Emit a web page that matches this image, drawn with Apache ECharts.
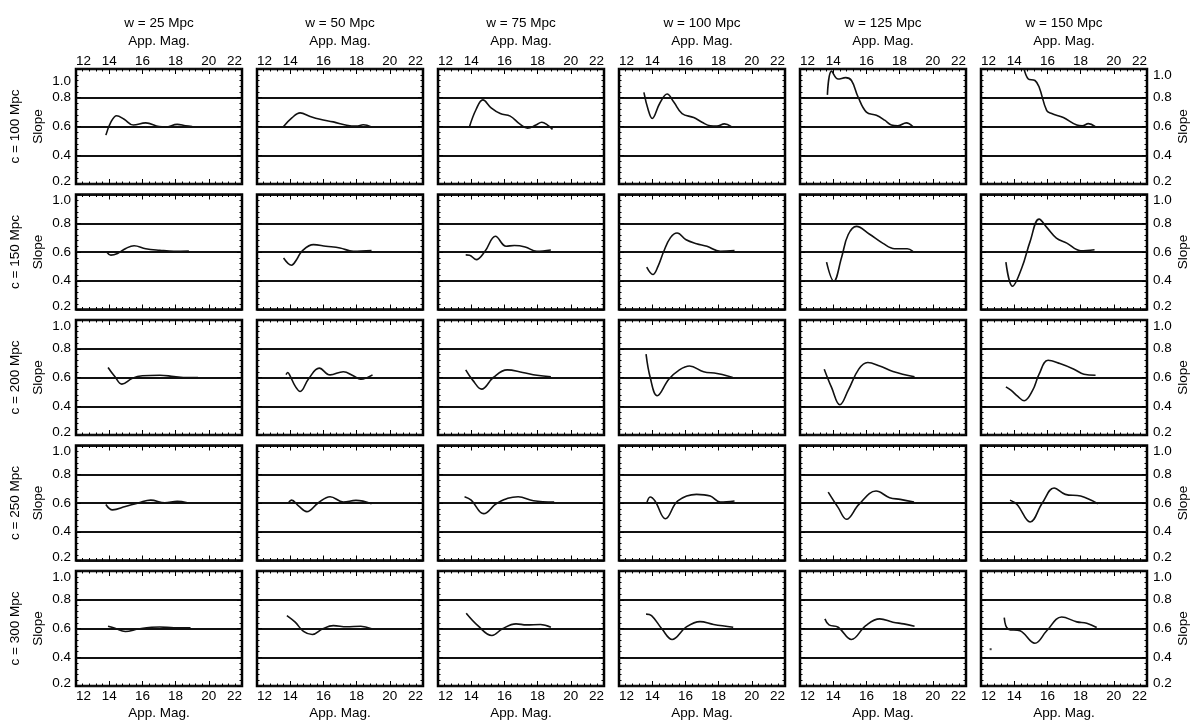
<!DOCTYPE html>
<html>
<head>
<meta charset="utf-8">
<script src="https://cdn.jsdelivr.net/npm/echarts@6/dist/echarts.min.js"></script>
<style>
  html, body { margin: 0; padding: 0; background: #fff; }
  #chart { width: 1190px; height: 721px; }
</style>
</head>
<body>
<div id="chart"></div>
<script>
// column / row headers
var widths = [25, 50, 75, 100, 125, 150];
var depths = [100, 150, 200, 250, 300];

// c = 100 Mpc
var s100_25 = [[13.8,0.54],[14.1,0.63],[14.45,0.675],[14.9,0.65],[15.45,0.61],[16.2,0.625],[17.0,0.6],[17.4,0.597],[18.1,0.615],[18.6,0.605],[19.0,0.6]];
var s100_50 = [[13.6,0.6],[14.1,0.66],[14.6,0.695],[15.2,0.67],[15.8,0.65],[16.6,0.632],[17.4,0.609],[18.0,0.603],[18.4,0.612],[18.9,0.597]];
var s100_75 = [[13.9,0.6],[14.3,0.72],[14.7,0.785],[15.2,0.73],[15.75,0.69],[16.35,0.672],[16.9,0.62],[17.4,0.588],[17.9,0.61],[18.25,0.63],[18.6,0.61],[18.9,0.58]];
var s100_100 = [[13.5,0.838],[13.75,0.72],[14.0,0.656],[14.45,0.76],[14.9,0.826],[15.3,0.77],[15.8,0.69],[16.5,0.662],[17.0,0.63],[17.5,0.605],[17.9,0.603],[18.35,0.618],[18.75,0.6]];
var s100_125 = [[13.65,0.82],[13.9,0.985],[14.3,0.93],[14.75,0.94],[15.1,0.92],[15.5,0.805],[16.0,0.70],[16.6,0.678],[17.1,0.644],[17.5,0.61],[17.9,0.605],[18.4,0.625],[18.8,0.6]];
var s100_150 = [[14.5,1.06],[14.85,0.93],[15.25,0.92],[15.5,0.875],[15.96,0.71],[16.26,0.69],[16.96,0.662],[17.77,0.61],[18.1,0.605],[18.47,0.62],[18.87,0.6]];

// c = 150 Mpc
var s150_25 = [[13.85,0.6],[14.1,0.578],[14.5,0.59],[15.0,0.625],[15.5,0.644],[16.2,0.623],[17.05,0.612],[17.9,0.605],[18.8,0.607]];
var s150_50 = [[13.6,0.558],[14.08,0.508],[14.4,0.55],[14.7,0.605],[15.4,0.651],[16.15,0.64],[17.0,0.628],[17.8,0.605],[18.9,0.61]];
var s150_75 = [[13.67,0.58],[13.9,0.578],[14.3,0.547],[14.83,0.605],[15.46,0.71],[16.1,0.64],[16.6,0.645],[17.25,0.635],[17.95,0.605],[18.8,0.614]];
var s150_100 = [[13.67,0.494],[14.04,0.443],[14.35,0.5],[14.7,0.605],[15.1,0.7],[15.5,0.732],[16.04,0.685],[16.67,0.658],[17.3,0.64],[18.1,0.605],[18.96,0.61]];
var s150_125 = [[13.6,0.53],[14.04,0.397],[14.5,0.56],[14.9,0.72],[15.4,0.778],[16.17,0.725],[17.0,0.66],[17.7,0.623],[18.46,0.623],[18.8,0.605]];
var s150_150 = [[13.5,0.53],[13.9,0.362],[14.46,0.49],[14.96,0.674],[15.5,0.829],[16.0,0.766],[16.54,0.697],[17.17,0.662],[18.0,0.609],[18.84,0.616]];

// c = 200 Mpc
var s200_25 = [[13.93,0.67],[14.35,0.605],[14.76,0.554],[15.4,0.595],[16.0,0.612],[17.05,0.616],[17.9,0.607],[18.7,0.6],[19.35,0.6]];
var s200_50 = [[13.75,0.62],[13.85,0.635],[14.0,0.61],[14.3,0.54],[14.6,0.503],[15.1,0.59],[15.75,0.665],[16.4,0.618],[17.2,0.64],[17.8,0.612],[18.25,0.588],[18.96,0.618]];
var s200_75 = [[13.67,0.653],[14.1,0.58],[14.63,0.519],[15.33,0.6],[16.17,0.653],[17.1,0.635],[17.96,0.616],[18.8,0.605]];
var s200_100 = [[13.63,0.762],[13.88,0.6],[14.3,0.473],[15.0,0.588],[15.6,0.65],[16.25,0.68],[17.1,0.64],[17.9,0.628],[18.85,0.6]];
var s200_125 = [[13.46,0.658],[13.9,0.531],[14.4,0.41],[14.9,0.51],[15.54,0.658],[16.08,0.704],[16.8,0.68],[17.6,0.642],[18.9,0.605]];
var s200_150 = [[13.5,0.535],[13.8,0.512],[14.2,0.47],[14.6,0.438],[15.1,0.508],[15.5,0.623],[16.04,0.72],[16.75,0.697],[17.6,0.658],[18.2,0.623],[18.9,0.616]];

// c = 250 Mpc
var s250_25 = [[13.8,0.59],[14.2,0.552],[14.97,0.575],[15.8,0.602],[16.5,0.62],[17.35,0.602],[18.1,0.612],[18.7,0.602]];
var s250_50 = [[13.9,0.602],[14.08,0.62],[14.5,0.58],[15.0,0.54],[15.7,0.602],[16.4,0.644],[17.2,0.607],[17.96,0.618],[18.9,0.595]];
var s250_75 = [[13.6,0.644],[14.0,0.62],[14.75,0.526],[15.6,0.602],[16.83,0.644],[17.75,0.616],[19.0,0.607]];
var s250_100 = [[13.67,0.598],[13.88,0.642],[14.17,0.614],[14.8,0.49],[15.54,0.614],[16.67,0.66],[17.5,0.648],[18.1,0.607],[18.96,0.614]];
var s250_125 = [[13.7,0.676],[14.3,0.568],[14.8,0.487],[15.55,0.59],[16.58,0.683],[17.4,0.637],[18.04,0.625],[18.87,0.607]];
var s250_150 = [[13.75,0.62],[14.17,0.59],[14.96,0.468],[15.7,0.602],[16.4,0.704],[17.08,0.66],[18.0,0.648],[19.04,0.595]];

// c = 300 Mpc
var s300_25 = [[13.93,0.616],[14.35,0.602],[14.97,0.579],[15.8,0.598],[17.05,0.61],[17.9,0.605],[18.9,0.605]];
var s300_50 = [[13.8,0.69],[14.3,0.644],[14.8,0.58],[15.33,0.558],[15.96,0.598],[16.6,0.62],[17.4,0.612],[18.25,0.616],[18.9,0.598]];
var s300_75 = [[13.7,0.706],[14.4,0.62],[15.25,0.551],[15.88,0.598],[16.7,0.632],[17.33,0.625],[18.17,0.628],[18.8,0.609]];
var s300_100 = [[13.63,0.7],[13.96,0.69],[14.58,0.598],[15.2,0.524],[16.04,0.61],[16.88,0.648],[17.7,0.628],[18.88,0.609]];
var s300_125 = [[13.5,0.667],[13.75,0.625],[14.3,0.609],[15.1,0.524],[15.96,0.62],[16.8,0.667],[17.6,0.644],[18.25,0.632],[18.9,0.616]];
var s300_150 = [[13.4,0.676],[13.65,0.595],[14.35,0.584],[15.25,0.497],[15.96,0.584],[16.86,0.68],[17.77,0.646],[18.37,0.637],[18.97,0.607]];
var stray300_150 = [[12.58, 0.456]];

var panels = [
  [s100_25, s100_50, s100_75, s100_100, s100_125, s100_150],
  [s150_25, s150_50, s150_75, s150_100, s150_125, s150_150],
  [s200_25, s200_50, s200_75, s200_100, s200_125, s200_150],
  [s250_25, s250_50, s250_75, s250_100, s250_125, s250_150],
  [s300_25, s300_50, s300_75, s300_100, s300_125, s300_150]
];

var FONT = 'Liberation Sans, Arial, Helvetica, sans-serif';
var grids = [], xAxes = [], yAxes = [], series = [], texts = [];

function tickStyle(len) {
  return { show: true, inside: true, length: len, lineStyle: { color: '#000', width: 1 } };
}

// rotated side text (row captions)
function sideText(str, x, y) {
  return {
    type: 'text', x: x, y: y, rotation: Math.PI / 2, silent: true,
    style: { text: str, fill: '#000', font: '13.5px ' + FONT, align: 'center', verticalAlign: 'middle' }
  };
}

for (var r = 0; r < depths.length; r++) {
  var panelTop = 69 + 125.5 * r;
  texts.push(sideText('c = ' + depths[r] + ' Mpc', 15, panelTop + 57.5));
  texts.push(sideText('Slope', 38, panelTop + 57.5));
  texts.push(sideText('Slope', 1183, panelTop + 57.5));
  for (var c = 0; c < widths.length; c++) {
    var gi = grids.length;
    grids.push({
      left: 76 + 181 * c, top: panelTop, width: 166, height: 115,
      outerBoundsMode: 'none', containLabel: false,
      show: true, borderColor: '#000', borderWidth: 2.5, backgroundColor: 'transparent'
    });
    var xBase = {
      gridIndex: gi, type: 'value', min: 12, max: 22, interval: 2,
      axisLine: { show: false },
      axisTick: tickStyle(5),
      minorTick: { show: true, splitNumber: 5, length: 2.5, lineStyle: { color: '#000', width: 1 } },
      splitLine: { show: false },
      nameTextStyle: { color: '#000', fontSize: 13.5, fontFamily: FONT, lineHeight: 18 }
    };
    xAxes.push(Object.assign({}, xBase, {
      position: 'bottom',
      axisLabel: { show: r === depths.length - 1, color: '#000', fontSize: 13.5, fontFamily: FONT, margin: 3,
        alignMinLabel: 'left', alignMaxLabel: 'right' },
      name: r === depths.length - 1 ? 'App. Mag.' : '', nameLocation: 'middle', nameGap: 18
    }));
    xAxes.push(Object.assign({}, xBase, {
      position: 'top',
      axisLabel: { show: r === 0, color: '#000', fontSize: 13.5, fontFamily: FONT, margin: 1,
        alignMinLabel: 'left', alignMaxLabel: 'right' },
      name: r === 0 ? 'w = ' + widths[c] + ' Mpc\nApp. Mag.' : '', nameLocation: 'middle', nameGap: 19
    }));
    var topPad = (r === 0 && c === 0) ? 24 : 12;
    var yLabel = {
      color: '#000', fontSize: 13.5, fontFamily: FONT, margin: 5,
      formatter: function (v) {
        if (v >= 0.99) return '{hi|' + v.toFixed(1) + '}';
        if (v <= 0.21) return '{lo|' + v.toFixed(1) + '}';
        return v.toFixed(1);
      },
      rich: {
        hi: { fontSize: 13.5, fontFamily: FONT, color: '#000', padding: [topPad, 0, 0, 0] },
        lo: { fontSize: 13.5, fontFamily: FONT, color: '#000', padding: [0, 0, 6, 0] }
      }
    };
    var yBase = {
      gridIndex: gi, type: 'value', min: 0.2, max: 1.0, interval: 0.2,
      axisLine: { show: false },
      axisTick: tickStyle(5),
      minorTick: { show: true, splitNumber: 5, length: 2.5, lineStyle: { color: '#000', width: 1 } }
    };
    yAxes.push(Object.assign({}, yBase, {
      position: 'left',
      splitLine: { show: true, lineStyle: { color: '#111', width: 2 } },
      axisLabel: Object.assign({ show: c === 0 }, yLabel)
    }));
    yAxes.push(Object.assign({}, yBase, {
      position: 'right',
      splitLine: { show: false },
      axisLabel: Object.assign({ show: c === widths.length - 1 }, yLabel, { margin: 6 })
    }));
    series.push({
      type: 'line', xAxisIndex: 2 * gi, yAxisIndex: 2 * gi,
      data: panels[r][c], smooth: 0.4, showSymbol: false, clip: true,
      lineStyle: { color: '#111', width: 1.6 }, silent: true
    });
    if (r === 4 && c === 5) {
      series.push({
        type: 'scatter', xAxisIndex: 2 * gi, yAxisIndex: 2 * gi,
        data: stray300_150, symbol: 'rect', symbolSize: 2,
        itemStyle: { color: '#111' }, silent: true
      });
    }
  }
}

var chart = echarts.init(document.getElementById('chart'));
chart.setOption({
  animation: false,
  backgroundColor: '#fff',
  textStyle: { fontFamily: FONT },
  grid: grids,
  xAxis: xAxes,
  yAxis: yAxes,
  series: series,
  graphic: texts
});
</script>
</body>
</html>
